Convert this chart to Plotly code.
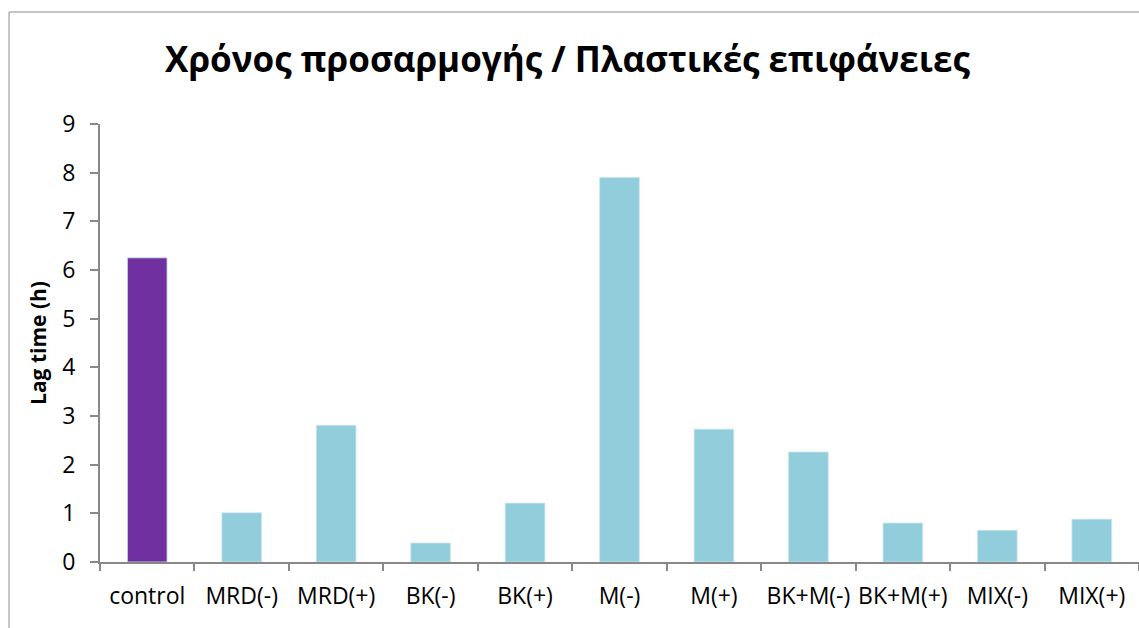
import plotly.graph_objects as go

# Lag time per plastic-surface treatment
categories = ["control", "MRD(-)", "MRD(+)", "BK(-)", "BK(+)", "M(-)",
              "M(+)", "BK+M(-)", "BK+M(+)", "MIX(-)", "MIX(+)"]
lag_time = [6.25, 1.01, 2.81, 0.39, 1.21, 7.90, 2.73, 2.26, 0.80, 0.65, 0.88]
bar_colors = ["#7030A0"] + ["#92CDDC"] * 10
y_ticks = list(range(0, 10))

FONT = "Open Sans"
AXIS_GREY = "#888888"

fig = go.Figure(
    go.Bar(
        x=categories,
        y=lag_time,
        marker=dict(color=bar_colors, line=dict(color="#C9E6EE", width=0.8)),
        width=0.42,
    )
)

W, H = 1139, 628
ml, mr, mt, mb = 100, 0, 124, 66
pw, ph = W - ml - mr, H - mt - mb

def px_x(p):
    return (p - ml) / pw

def px_y(p):
    return (H - mb - p) / ph

fig.update_layout(
    width=W,
    height=H,
    margin=dict(l=ml, r=mr, t=mt, b=mb, autoexpand=False),
    paper_bgcolor="white",
    plot_bgcolor="white",
    showlegend=False,
    title=dict(
        text="<b>Χρόνος προσαρμογής / Πλαστικές επιφάνειες</b>",
        font=dict(family=FONT, size=35, color="black"),
        x=567.5 / W,
        xref="container",
        xanchor="center",
        y=1 - 60 / H,
        yanchor="middle",
    ),
    xaxis=dict(
        range=[-0.5, 10.5],
        showline=True,
        linecolor=AXIS_GREY,
        linewidth=2,
        ticks="outside",
        tickson="boundaries",
        ticklen=7,
        tickcolor=AXIS_GREY,
        tickwidth=2,
        showgrid=False,
        tickangle=0,
        automargin=False,
        tickfont=dict(family=FONT, size=23, color="black"),
        ticklabelstandoff=12,
    ),
    yaxis=dict(
        range=[0, 9],
        tickvals=y_ticks,
        showline=True,
        linecolor=AXIS_GREY,
        linewidth=2,
        ticks="outside",
        ticklen=8,
        tickcolor=AXIS_GREY,
        tickwidth=2,
        showgrid=False,
        zeroline=False,
        automargin=False,
        tickfont=dict(family=FONT, size=23, color="black"),
        ticklabelstandoff=10,
        title=dict(
            text="<b>Lag time (h)</b>",
            font=dict(family=FONT, size=21, color="black"),
            standoff=10,
        ),
    ),
    shapes=[
        dict(
            type="rect",
            xref="paper",
            yref="paper",
            x0=px_x(9),
            x1=px_x(W + 20),
            y0=px_y(H + 20),
            y1=px_y(12),
            line=dict(color="#8C8C8C", width=1),
            fillcolor="rgba(0,0,0,0)",
            layer="below",
        )
    ],
)

fig.write_html("out.html")
